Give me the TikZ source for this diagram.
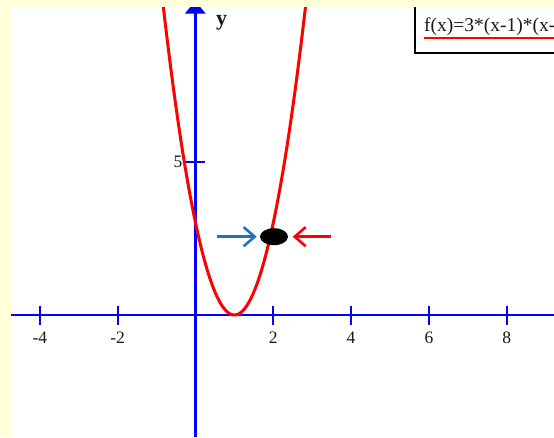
\documentclass[tikz,border=0pt]{standalone}
\usepackage{fontspec}
\setmainfont{Liberation Serif}
\usetikzlibrary{arrows.meta,shapes.geometric}
\definecolor{bandcol}{RGB}{255,255,217}
\definecolor{axisblue}{RGB}{0,0,255}
\definecolor{arrowblue}{RGB}{30,115,195}
\definecolor{curvered}{RGB}{255,0,0}
\tikzset{
  axisline/.style={draw=axisblue, line width=2.7pt},
  tickline/.style={draw=axisblue, line width=1.8pt},
  ticklabel/.style={font=\fontsize{17.5}{17.5}\selectfont, anchor=base, inner sep=0pt, text=black!90},
  curveline/.style={draw=curvered, line width=3pt, line join=round},
  pointer/.style={line width=2.8pt, -{Straight Barb[length=11pt, width=19pt, line width=2.6pt]}},
  dotnode/.style={ellipse, fill=black, minimum width=28pt, minimum height=17pt, inner sep=0pt},
}
\begin{document}
\begin{tikzpicture}[x=1pt,y=-1pt]
\useasboundingbox (0,0) rectangle (554,437);
\fill[white] (0,0) rectangle (554,437);
% axes
\coordinate (xl) at (0,315);
\coordinate (xr) at (554,315);
\coordinate (yb) at (195.3,437);
\coordinate (yt) at (195.3,1);
\draw[axisline] (xl) -- (xr);
\draw[axisline, -{Triangle[width=20pt,length=12.5pt]}] (yb) -- (yt);
% x ticks and labels
\foreach \v/\t in {-4/-4,-2/-2,2/2,4/4,6/6,8/8}{
  \draw[tickline] ({195.5+38.9*\v},306) -- ({195.5+38.9*\v},325);
  \node[ticklabel] (lx\v) at ({195.5+38.9*\v},343) {\t};
}
% y tick
\draw[tickline] (185,161.7) -- (205,161.7);
\node[ticklabel, anchor=center] (ly5) at (178,161.5) {5};
\node[font=\fontsize{22}{22}\selectfont\bfseries, anchor=base, inner sep=0pt, text=black!90] (ylab) at (221.5,25.5) {y};
% curve
\draw[curveline] plot[domain=-0.847:2.847, samples=120] ({195.5+38.9*\x},{315-92.3*(\x-1)^2});
% dot and pointers
\node[dotnode] (dot) at (274,236.7) {};
\coordinate (bs) at (217,236.7);
\coordinate (be) at (256.7,236.7);
\coordinate (rs) at (330.7,236.7);
\coordinate (re) at (292.7,236.7);
\draw[pointer, draw=arrowblue] (bs) -- (be);
\draw[pointer, draw=curvered] (rs) -- (re);
% legend
\draw[fill=white, draw=black, line width=2.2pt] (415,-5) rectangle (560,52.7);
\node[font=\fontsize{19.5}{19.5}\selectfont, anchor=base west, inner sep=0pt, text=black!90] (leg) at (424,31) {f(x)=3*(x-1)*(x-};
\coordinate (ul) at (424,37.8);
\coordinate (ur) at (554,37.8);
\draw[draw=curvered, line width=2.5pt] (ul) -- (ur);
% page band
\fill[bandcol] (0,0) rectangle (554,7);
\fill[bandcol] (0,0) rectangle (11,437);
\end{tikzpicture}
\end{document}
